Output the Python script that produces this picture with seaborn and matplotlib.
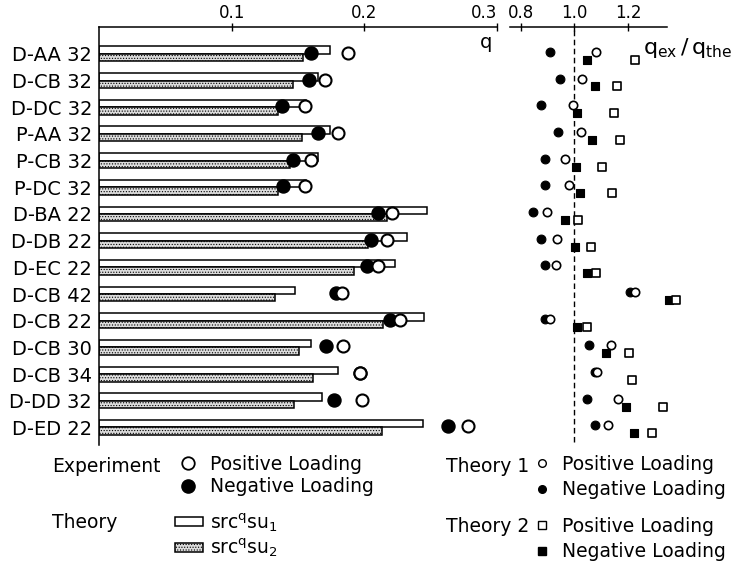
import numpy as np
import pandas as pd
import matplotlib
matplotlib.use("Agg")
import matplotlib.pyplot as plt
from matplotlib.lines import Line2D
from matplotlib.patches import Patch
import seaborn as sns

# ---------------- data ----------------
rows = ["D-AA 32", "D-CB 32", "D-DC 32", "P-AA 32", "P-CB 32", "P-DC 32",
        "D-BA 22", "D-DB 22", "D-EC 22", "D-CB 42", "D-CB 22", "D-CB 30",
        "D-CB 34", "D-DD 32", "D-ED 22"]
q_su1 = [0.174, 0.165, 0.156, 0.174, 0.165, 0.156, 0.247, 0.232, 0.223,
         0.148, 0.245, 0.160, 0.180, 0.168, 0.244]
q_su2 = [0.154, 0.146, 0.135, 0.153, 0.144, 0.135, 0.217, 0.203, 0.192,
         0.133, 0.214, 0.151, 0.161, 0.147, 0.213]
exp_pos = [0.188, 0.170, 0.155, 0.180, 0.160, 0.155, 0.221, 0.217, 0.210,
           0.183, 0.227, 0.184, 0.197, 0.198, 0.278]
exp_neg = [0.160, 0.158, 0.138, 0.165, 0.146, 0.139, 0.210, 0.205, 0.202,
           0.179, 0.219, 0.171, 0.197, 0.177, 0.263]
t1_pos = [1.079, 1.029, 0.996, 1.026, 0.964, 0.981, 0.896, 0.934, 0.931,
          1.228, 0.909, 1.136, 1.085, 1.164, 1.124]
t1_neg = [0.910, 0.946, 0.875, 0.938, 0.890, 0.888, 0.844, 0.873, 0.891,
          1.209, 0.890, 1.056, 1.075, 1.046, 1.075]
t2_pos = [1.225, 1.160, 1.146, 1.171, 1.104, 1.139, 1.012, 1.060, 1.079,
          1.378, 1.048, 1.204, 1.214, 1.331, 1.290]
t2_neg = [1.045, 1.076, 1.008, 1.066, 1.005, 1.021, 0.963, 1.001, 1.046,
          1.354, 1.008, 1.116, np.nan, 1.194, 1.222]
q_ticks = [0.1, 0.2, 0.3]
r_ticks = [0.8, 1.0, 1.2]

# ---------------- style ----------------
sns.set_style("white")
plt.rcParams["font.family"] = ["DejaVu Sans"]
plt.rcParams["hatch.linewidth"] = 0.5
for k in ["text.color", "axes.labelcolor", "xtick.color", "ytick.color",
          "axes.edgecolor"]:
    plt.rcParams[k] = "black"

W, H = 745, 562
fig = plt.figure(figsize=(W / 100, H / 100), dpi=100)


def fx(px):
    return px / W


def fy(py):
    return 1 - py / H


pos = np.arange(len(rows))
YLIM = (14.66, -1.01)
HATCH_FACE = "#dcdcdc"
TFS = 12

# ---------------- left panel ----------------
axL = fig.add_axes([fx(99), fy(445), fx(497 - 99), (445 - 27) / H])
bars = pd.DataFrame({
    "pos": np.concatenate([pos, pos]),
    "q": q_su1 + q_su2,
    "series": ["su1"] * len(rows) + ["su2"] * len(rows),
})
sns.barplot(data=bars, x="q", y="pos", hue="series", orient="h",
            native_scale=True, dodge=True, width=0.56, gap=0,
            hue_order=["su1", "su2"],
            palette={"su1": "white", "su2": HATCH_FACE},
            edgecolor="black", linewidth=1.1, errorbar=None,
            legend=False, ax=axL, zorder=2)
for p in axL.containers[1]:
    p.set_hatch("......")

exp = pd.DataFrame({"pos": pos - 0.04, "pos_q": exp_pos, "neg_q": exp_neg})
sns.scatterplot(data=exp, x="neg_q", y="pos", marker="o", color="black",
                edgecolor="black", s=88, linewidth=1.0, ax=axL, zorder=4,
                clip_on=False)
sns.scatterplot(data=exp, x="pos_q", y="pos", marker="o", color="white",
                edgecolor="black", s=75, linewidth=1.5, ax=axL, zorder=5,
                clip_on=False)

axL.set_xlim(0, 0.3)
axL.set_ylim(*YLIM)
axL.set_xlabel("")
axL.set_ylabel("")
axL.xaxis.tick_top()
axL.set_xticks(q_ticks)
labsL = axL.set_xticklabels([f"{t:.1f}" for t in q_ticks], fontsize=TFS)
labsL[-1].set_horizontalalignment("right")
axL.tick_params(axis="x", direction="inout", length=6, width=1, pad=0.5,
                top=True, bottom=False)
axL.set_yticks(pos)
axL.set_yticklabels(rows, fontsize=14)
axL.tick_params(axis="y", length=0, pad=5)
for s in ["right", "bottom"]:
    axL.spines[s].set_visible(False)
for s in ["top", "left"]:
    axL.spines[s].set_linewidth(1.1)
axL.text(0.972, 0.962, "q", transform=axL.transAxes, ha="center",
         va="center", fontsize=14)

# ---------------- right panel ----------------
RX0, RSC = 0.7589, 267.5
RX1 = 1.40
axR = fig.add_axes([fx(510), fy(445), (RX1 - RX0) * RSC / W, (445 - 27) / H])
ratio = pd.DataFrame({"circ": pos - 0.075, "sq": pos + 0.22,
                      "t1p": t1_pos, "t1n": t1_neg,
                      "t2p": t2_pos, "t2n": t2_neg})
axR.axvline(1.0, ymin=0.007, ymax=1, color="black", lw=1.0,
            dashes=(4, 2.5), zorder=1)
sns.scatterplot(data=ratio, x="t1n", y="circ", marker="o", color="black",
                edgecolor="black", s=40, linewidth=0.8, ax=axR, zorder=3,
                clip_on=False)
sns.scatterplot(data=ratio, x="t1p", y="circ", marker="o", color="white",
                edgecolor="black", s=36, linewidth=1.2, ax=axR, zorder=4,
                clip_on=False)
sns.scatterplot(data=ratio, x="t2n", y="sq", marker="s", color="black",
                edgecolor="black", s=40, linewidth=0.8, ax=axR, zorder=3,
                clip_on=False)
sns.scatterplot(data=ratio, x="t2p", y="sq", marker="s", color="white",
                edgecolor="black", s=36, linewidth=1.2, ax=axR, zorder=4,
                clip_on=False)
axR.set_xlim(RX0, RX1)
axR.set_ylim(*YLIM)
axR.set_xlabel("")
axR.set_ylabel("")
axR.xaxis.tick_top()
axR.set_xticks(r_ticks)
axR.set_xticklabels([f"{t:.1f}" for t in r_ticks], fontsize=TFS)
axR.tick_params(axis="x", direction="inout", length=6, width=1, pad=0.5,
                top=True, bottom=False)
axR.set_yticks([])
for s in ["right", "bottom", "left"]:
    axR.spines[s].set_visible(False)
axR.spines["top"].set_linewidth(1.1)
axR.spines["top"].set_bounds(RX0, RX0 + (667 - 510) / RSC)
fig.text(fx(643), fy(48), r"$\mathregular{q_{ex}\,/\,q_{the}}$",
         ha="left", va="center", fontsize=16)

# ---------------- legends ----------------
LFS = 13.5
fs_px = LFS * 100 / 72


def add_legend(handles, labels, handle_center_px, handle_w_px, text_px,
               top_px, spacing_px, handleheight=0.7):
    x0 = handle_center_px - handle_w_px / 2
    text_h = 1.17 * fs_px
    leg = fig.legend(handles, labels, loc="upper left",
                     bbox_to_anchor=(fx(x0), fy(top_px)),
                     bbox_transform=fig.transFigure, frameon=False,
                     borderpad=0, borderaxespad=0,
                     handlelength=handle_w_px / fs_px,
                     handleheight=handleheight,
                     handletextpad=(text_px - x0 - handle_w_px) / fs_px,
                     labelspacing=max(spacing_px - text_h, 0) / fs_px,
                     fontsize=LFS)
    return leg


exp_h = [Line2D([], [], marker="o", ls="none", mfc="white", mec="black",
                ms=9, mew=1.3),
         Line2D([], [], marker="o", ls="none", mfc="black", mec="black",
                ms=9.5, mew=1.0)]
add_legend(exp_h, ["Positive Loading", "Negative Loading"], 188, 17, 210,
           455, 25)
bar_h = [Patch(facecolor="white", edgecolor="black", lw=1.1),
         Patch(facecolor=HATCH_FACE, edgecolor="black", lw=1.1,
               hatch="......")]
add_legend(bar_h, [r"src$^{\mathregular{q}}$su$_{\mathregular{1}}$",
                   r"src$^{\mathregular{q}}$su$_{\mathregular{2}}$"],
           189, 28, 210, 511, 25, handleheight=0.33)
t1_h = [Line2D([], [], marker="o", ls="none", mfc="white", mec="black",
               ms=5.5, mew=1.0),
        Line2D([], [], marker="o", ls="none", mfc="black", mec="black",
               ms=5.5, mew=1.0)]
add_legend(t1_h, ["Positive Loading", "Negative Loading"], 542, 10, 562,
           455, 28)
t2_h = [Line2D([], [], marker="s", ls="none", mfc="white", mec="black",
               ms=5.5, mew=1.0),
        Line2D([], [], marker="s", ls="none", mfc="black", mec="black",
               ms=5.5, mew=1.0)]
add_legend(t2_h, ["Positive Loading", "Negative Loading"], 542, 10, 562,
           517, 28)

fig.text(fx(52), fy(466), "Experiment", ha="left", va="center", fontsize=LFS)
fig.text(fx(52), fy(522), "Theory", ha="left", va="center", fontsize=LFS)
fig.text(fx(446), fy(466), "Theory 1", ha="left", va="center", fontsize=LFS)
fig.text(fx(446), fy(527), "Theory 2", ha="left", va="center", fontsize=LFS)

fig.savefig("out.png", dpi=100)
